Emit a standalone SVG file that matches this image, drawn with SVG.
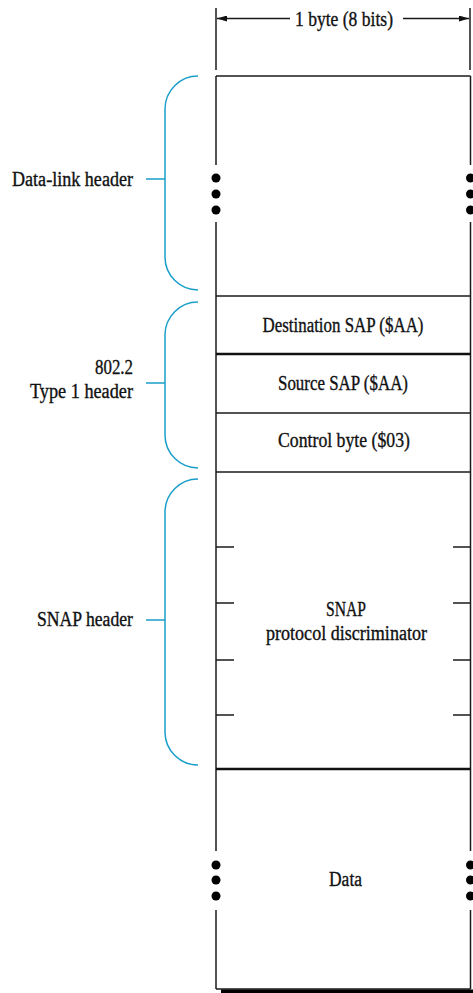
<svg xmlns="http://www.w3.org/2000/svg" width="473" height="993" viewBox="0 0 473 993">
<defs>
<style>
.ln{stroke:#1a1a1a;stroke-width:1.5;fill:none}
.thk{stroke:#111;stroke-width:2.6;fill:none}
.br{stroke:#1b9fc9;stroke-width:1.5;fill:none}
.t{font-family:"Liberation Serif","Times New Roman",serif;font-size:20.5px;fill:#111;stroke:#111;stroke-width:0.35}
.c{text-anchor:middle}
.r{text-anchor:end}
.dot{fill:#000}
</style>
<marker id="ah" viewBox="0 0 10 6" refX="10" refY="3" markerWidth="10" markerHeight="6" markerUnits="userSpaceOnUse" orient="auto-start-reverse">
<path d="M0,0 L10,3 L0,6 Z" fill="#111"/>
</marker>
</defs>
<rect width="473" height="993" fill="#fff"/>

<g id="width-label">
<line class="ln" x1="216" y1="8" x2="216" y2="70"/>
<line class="ln" x1="470" y1="8" x2="470" y2="70"/>
<line class="ln" x1="290" y1="18.5" x2="217" y2="18.5" marker-end="url(#ah)"/>
<line class="ln" x1="403" y1="18.5" x2="469" y2="18.5" marker-end="url(#ah)"/>
<text class="t c" x="344" y="26" textLength="98" lengthAdjust="spacingAndGlyphs">1 byte (8 bits)</text>
</g>

<g id="frame">
<line class="ln" x1="216" y1="76" x2="216" y2="165"/>
<line class="ln" x1="216" y1="222" x2="216" y2="851"/>
<line class="ln" x1="216" y1="910" x2="216" y2="989"/>
<line class="ln" x1="470.5" y1="76" x2="470.5" y2="165"/>
<line class="ln" x1="470.5" y1="222" x2="470.5" y2="851"/>
<line class="ln" x1="470.5" y1="910" x2="470.5" y2="989"/>
<line class="ln" x1="216" y1="76" x2="470.5" y2="76"/>
<line class="ln" x1="216" y1="989" x2="470.5" y2="989"/>
<rect x="221" y="989.5" width="252" height="3.5" fill="#000"/>
</g>

<g id="data-link">
<circle class="dot" cx="216" cy="178" r="4.5"/>
<circle class="dot" cx="216" cy="194" r="4.5"/>
<circle class="dot" cx="216" cy="210" r="4.5"/>
<circle class="dot" cx="470.5" cy="178" r="4.5"/>
<circle class="dot" cx="470.5" cy="194" r="4.5"/>
<circle class="dot" cx="470.5" cy="210" r="4.5"/>
</g>

<g id="dest-sap">
<line class="ln" x1="216" y1="296" x2="470.5" y2="296"/>
<text class="t c" x="343" y="332" textLength="161" lengthAdjust="spacingAndGlyphs">Destination SAP ($AA)</text>
</g>

<g id="source-sap">
<line class="thk" x1="216" y1="354" x2="470.5" y2="354"/>
<text class="t c" x="343" y="390" textLength="130" lengthAdjust="spacingAndGlyphs">Source SAP ($AA)</text>
</g>

<g id="control-byte">
<line class="ln" x1="216" y1="413" x2="470.5" y2="413"/>
<text class="t c" x="344" y="447" textLength="132" lengthAdjust="spacingAndGlyphs">Control byte ($03)</text>
</g>

<g id="snap-pd">
<line class="ln" x1="216" y1="472" x2="470.5" y2="472"/>
<line class="ln" x1="216" y1="547" x2="234" y2="547"/>
<line class="ln" x1="216" y1="603" x2="234" y2="603"/>
<line class="ln" x1="216" y1="660" x2="234" y2="660"/>
<line class="ln" x1="216" y1="715" x2="234" y2="715"/>
<line class="ln" x1="453" y1="547" x2="470.5" y2="547"/>
<line class="ln" x1="453" y1="603" x2="470.5" y2="603"/>
<line class="ln" x1="453" y1="660" x2="470.5" y2="660"/>
<line class="ln" x1="453" y1="715" x2="470.5" y2="715"/>
<text class="t c" x="346" y="616" textLength="40" lengthAdjust="spacingAndGlyphs">SNAP</text>
<text class="t c" x="346.5" y="640" textLength="161" lengthAdjust="spacingAndGlyphs">protocol discriminator</text>
</g>

<g id="data">
<line class="thk" x1="216" y1="769" x2="470.5" y2="769"/>
<circle class="dot" cx="216" cy="865" r="4.5"/>
<circle class="dot" cx="216" cy="880" r="4.5"/>
<circle class="dot" cx="216" cy="896" r="4.5"/>
<circle class="dot" cx="470.5" cy="865" r="4.5"/>
<circle class="dot" cx="470.5" cy="880" r="4.5"/>
<circle class="dot" cx="470.5" cy="896" r="4.5"/>
<text class="t c" x="345.5" y="886" textLength="33" lengthAdjust="spacingAndGlyphs">Data</text>
</g>

<g id="brace-data-link">
<path class="br" d="M198,76 A33,33 0 0 0 165,109 L165,257 A33,33 0 0 0 198,290 M146,179 L165,179"/>
<text class="t r" x="133" y="186" textLength="121" lengthAdjust="spacingAndGlyphs">Data-link header</text>
</g>

<g id="brace-8022">
<path class="br" d="M198,302 A33,33 0 0 0 165,335 L165,435 A33,33 0 0 0 198,468 M146,383 L165,383"/>
<text class="t r" x="133" y="374" textLength="38" lengthAdjust="spacingAndGlyphs">802.2</text>
<text class="t r" x="133" y="398" textLength="103" lengthAdjust="spacingAndGlyphs">Type 1 header</text>
</g>

<g id="brace-snap">
<path class="br" d="M198,479 A33,33 0 0 0 165,512 L165,732 A33,33 0 0 0 198,765 M146,620 L165,620"/>
<text class="t r" x="133" y="626" textLength="96" lengthAdjust="spacingAndGlyphs">SNAP header</text>
</g>
</svg>
